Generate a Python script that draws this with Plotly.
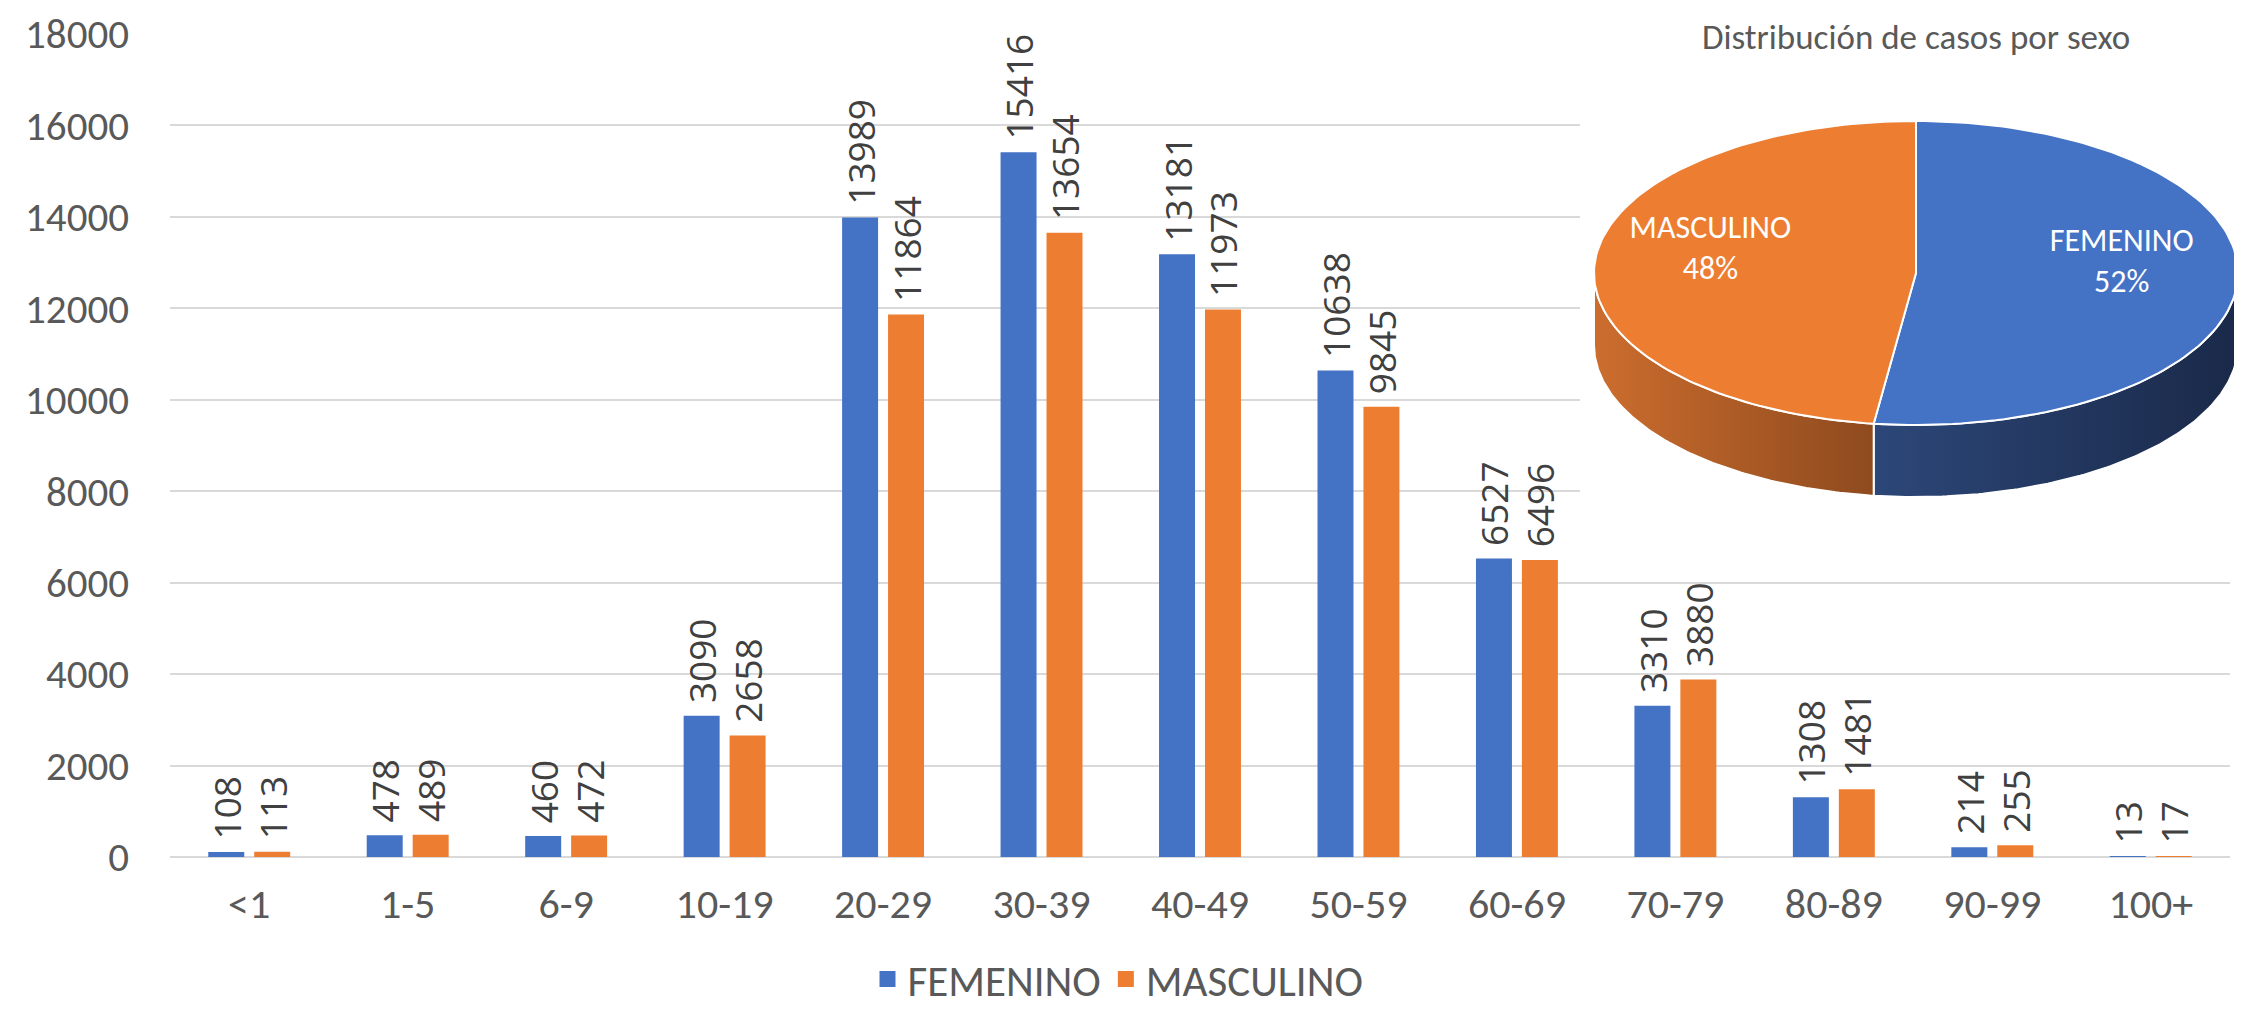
import math
import plotly.graph_objects as go

# ---------------- data ----------------
categories = ["<1", "1-5", "6-9", "10-19", "20-29", "30-39", "40-49",
              "50-59", "60-69", "70-79", "80-89", "90-99", "100+"]
femenino = [108, 478, 460, 3090, 13989, 15416, 13181, 10638, 6527, 3310, 1308, 214, 13]
masculino = [113, 489, 472, 2658, 11864, 13654, 11973, 9845, 6496, 3880, 1481, 255, 17]
series_names = ["FEMENINO", "MASCULINO"]
y_ticks = [0, 2000, 4000, 6000, 8000, 10000, 12000, 14000, 16000, 18000]
pie_title = "Distribución de casos por sexo"

# ---------------- styling / layout geometry ----------------
BLUE, ORANGE = "#4472C4", "#ED7D31"
TXT, LBL = "#595959", "#404040"
AXFONT = "Carlito, Lato, sans-serif"
LABFONT = "Open Sans, sans-serif"

# screen geometry (the page body adds an 8px offset)
SCREEN_W, SCREEN_H, OFF = 2242, 1010, 8
W, H = SCREEN_W - OFF, SCREEN_H - OFF
PLOT_LEFT, PLOT_TOP, PLOT_BOTTOM, PLOT_RIGHT, PAPER_RIGHT = 170, 34, 857, 2230, 2238
ML = PLOT_LEFT - OFF
MT = PLOT_TOP - OFF
MB = SCREEN_H - PLOT_BOTTOM
MR = SCREEN_W - PAPER_RIGHT
PW = PAPER_RIGHT - PLOT_LEFT
PH = PLOT_BOTTOM - PLOT_TOP


def fx(px):
    return (px - PLOT_LEFT) / PW


def fy(py):
    return (PLOT_BOTTOM - py) / PH


fig = go.Figure()

# ---------------- bars ----------------
for name, vals, col in [(series_names[0], femenino, BLUE), (series_names[1], masculino, ORANGE)]:
    fig.add_trace(go.Bar(
        x=categories, y=vals, name=name, marker=dict(color=col, line=dict(width=0)),
        texttemplate="\u00a0%{y:.0f}", textposition="outside", textangle=-90,
        outsidetextfont=dict(family=LABFONT, size=37, color=LBL),
        constraintext="none", cliponaxis=False, hoverinfo="x+y+name",
        showlegend=False, legendgroup=name,
    ))
    # legend entry with a larger square swatch
    fig.add_trace(go.Scatter(
        x=[None], y=[None], mode="markers", name=name, legendgroup=name,
        marker=dict(symbol="square", size=22, color=col), hoverinfo="skip"))

# ---------------- pseudo 3D pie (overlay axes in screen-pixel units) ----------------
CX, CY, A, B, DEPTH = 1916, 273, 322, 152, 72
X0, X1, Y0, Y1 = 1580, 2238, 100, 510

totals = [sum(femenino), sum(masculino)]
grand = sum(totals)
fracs = [t / grand for t in totals]
top_cols = [BLUE, ORANGE]
side_scales = [[[0, "#2C4778"], [1, "#1A2949"]],
               [[0, "#CC6D2E"], [1, "#8E4A1E"]]]


def ell(theta_deg, dy=0.0):
    t = math.radians(theta_deg)
    return CX + A * math.sin(t), CY - B * math.cos(t) + dy


def arc(s, e, dy=0.0, n=120):
    pts = [ell(s + (e - s) * i / n, dy) for i in range(n + 1)]
    return [p[0] for p in pts], [p[1] for p in pts]


starts = []
acc = 0.0
for f in fracs:
    starts.append((acc * 360, (acc + f) * 360))
    acc += f

# side faces (front half 90..270 deg)
for (s, e), cs in zip(starts, side_scales):
    lo, hi = max(s, 90), min(e, 270)
    if hi <= lo:
        continue
    tx, ty = arc(lo, hi)
    bx, by = arc(hi, lo, DEPTH)
    fig.add_trace(go.Scatter(
        x=tx + bx + [tx[0]], y=ty + by + [ty[0]], mode="lines", fill="toself",
        fillgradient=dict(type="horizontal", colorscale=cs),
        line=dict(color="white", width=2), xaxis="x2", yaxis="y2",
        showlegend=False, hoverinfo="skip"))

# top faces
for (s, e), col in zip(starts, top_cols):
    ax, ay = arc(s, e)
    fig.add_trace(go.Scatter(
        x=[CX] + ax + [CX], y=[CY] + ay + [CY], mode="lines", fill="toself",
        fillcolor=col, line=dict(color="white", width=2), xaxis="x2", yaxis="y2",
        showlegend=False, hoverinfo="skip"))

# slice labels
lx, ly, lt = [], [], []
for (s, e), name, f in zip(starts, series_names, fracs):
    mid = (s + e) / 2
    px = CX + 0.64 * A * math.sin(math.radians(mid))
    py = CY - 0.64 * B * math.cos(math.radians(mid)) - 16
    lx.append(px)
    ly.append(py)
    lt.append(f"{name}<br>{round(f * 100)}%")
fig.add_trace(go.Scatter(
    x=lx, y=ly, text=lt, mode="text", textposition="middle center",
    textfont=dict(family=AXFONT, size=32, color="white"),
    xaxis="x2", yaxis="y2", showlegend=False, hoverinfo="skip"))

fig.add_annotation(
    text=pie_title, x=fx(CX), y=fy(37), xref="paper", yref="paper",
    xanchor="center", yanchor="middle", showarrow=False,
    font=dict(family=AXFONT, size=35, color=TXT))

# ---------------- layout ----------------
fig.update_layout(
    width=W, height=H, margin=dict(l=ML, r=MR, t=MT, b=MB, pad=0, autoexpand=False),
    paper_bgcolor="white", plot_bgcolor="white",
    barmode="group", bargap=0.42, bargroupgap=0.217,
    font=dict(family=AXFONT, color=TXT),
    xaxis=dict(domain=[0, fx(PLOT_RIGHT)], showgrid=False, showline=False, ticks="",
               tickfont=dict(family=AXFONT, size=42, color=TXT), ticklabelstandoff=18,
               ticklabeloverflow="allow", fixedrange=True),
    yaxis=dict(range=[0, 18000], tickvals=y_ticks, tickformat="d", showgrid=True,
               gridcolor="#D9D9D9", gridwidth=2, zeroline=True, zerolinecolor="#D9D9D9",
               zerolinewidth=2, showline=False, ticks="",
               tickfont=dict(family=AXFONT, size=41, color=TXT),
               ticklabelstandoff=40, ticklabeloverflow="allow", fixedrange=True),
    xaxis2=dict(domain=[fx(X0), fx(X1)], range=[X0, X1], visible=False, anchor="y2",
                fixedrange=True),
    yaxis2=dict(domain=[fy(Y1), fy(Y0)], range=[Y1, Y0], visible=False, anchor="x2",
                fixedrange=True),
    legend=dict(orientation="h", x=fx(1118), y=fy(979), xanchor="center", yanchor="middle",
                font=dict(family=AXFONT, size=43, color=TXT), itemwidth=30,
                tracegroupgap=0, bgcolor="rgba(0,0,0,0)"),
    showlegend=True,
)

fig.write_html("out.html")
